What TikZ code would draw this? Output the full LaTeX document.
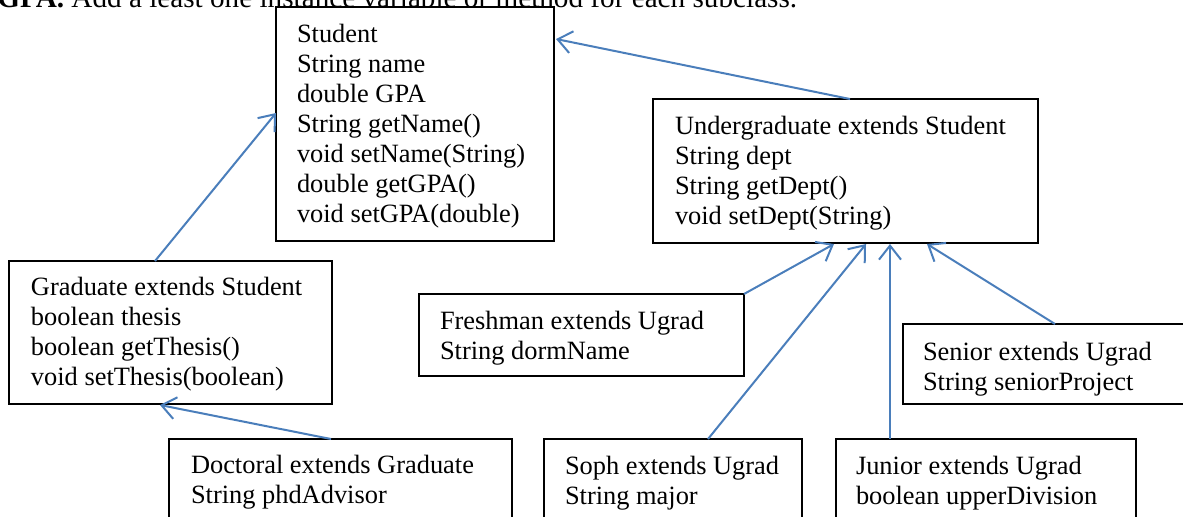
\documentclass[tikz,border=0pt]{standalone}
\usepackage{fontspec}
\setmainfont{Liberation Serif}
\usetikzlibrary{arrows.meta,calc}
\definecolor{arrowblue}{HTML}{4A7EBB}
\begin{document}
\begin{tikzpicture}[x=0.5pt,y=-0.5pt,
  box/.style={draw=black,line width=0.9pt,anchor=north west,inner sep=0pt,outer sep=0pt,fill=none},
  txt/.style={anchor=north west,inner sep=0pt,outer sep=0pt,align=left,font=\fontsize{13.2pt}{15pt}\selectfont},
  arr/.style={draw=arrowblue,line width=1pt,-{Straight Barb[length=7pt,width=11pt,line width=1pt]}}]
\useasboundingbox (0,0) rectangle (1183,516);
\fill[white] (0,0) rectangle (1183,516);
\clip (0,0) rectangle (1183,516);

\node[anchor=base west,inner sep=0pt,font=\fontsize{14.6pt}{16pt}\selectfont] (hdr) at (-3,7)
  {\textbf{GPA.} Add a least one instance variable or method for each subclass.};

% boxes
\node[box,minimum width=139pt,minimum height=117pt] (student) at (276,7) {};
\node[box,minimum width=192.5pt,minimum height=72pt] (under) at (653,99) {};
\node[box,minimum width=161.5pt,minimum height=71.5pt] (grad) at (9,261) {};
\node[box,minimum width=162.5pt,minimum height=41pt] (fresh) at (419,294) {};
\node[box,minimum width=146pt,minimum height=40pt] (senior) at (903,324) {};
\node[box,minimum width=171.5pt,minimum height=50.5pt] (doct) at (169,439) {};
\node[box,minimum width=129pt,minimum height=50.5pt] (soph) at (544,439) {};
\node[box,minimum width=150pt,minimum height=50.5pt] (junior) at (836,439) {};

% texts
\node[txt] (studentT) at ($(student.north west)+(21,0)$)
  {\rule{0pt}{17.5pt}Student\\String name\\double GPA\\String getName()\\void setName(String)\\double getGPA()\\void setGPA(double)};
\node[txt] (underT) at ($(under.north west)+(22,0)$)
  {\rule{0pt}{17.5pt}Undergraduate extends Student\\String dept\\String getDept()\\void setDept(String)};
\node[txt] (gradT) at ($(grad.north west)+(22,0)$)
  {\rule{0pt}{17pt}Graduate extends Student\\boolean thesis\\boolean getThesis()\\void setThesis(boolean)};
\node[txt] (freshT) at ($(fresh.north west)+(21,0)$)
  {\rule{0pt}{17.5pt}Freshman extends Ugrad\\String dormName};
\node[txt] (seniorT) at ($(senior.north west)+(20,0)$)
  {\rule{0pt}{18pt}Senior extends Ugrad\\String seniorProject};
\node[txt] (doctT) at ($(doct.north west)+(22,0)$)
  {\rule{0pt}{17pt}Doctoral extends Graduate\\String phdAdvisor};
\node[txt] (sophT) at ($(soph.north west)+(21,0)$)
  {\rule{0pt}{17.5pt}Soph extends Ugrad\\String major};
\node[txt] (juniorT) at ($(junior.north west)+(20,0)$)
  {\rule{0pt}{17.5pt}Junior extends Ugrad\\boolean upperDivision};

% connectors
\draw[arr] ($(grad.north west)+(146,0)$) -- ($(student.north west)+(0,106)$);
\draw[arr] ($(under.north west)+(197,0)$) -- ($(student.north east)+(2,32)$);
\draw[arr] ($(doct.north west)+(162,0)$) -- ($(grad.south west)+(151,1)$);
\draw[arr] (fresh.north east) -- ($(under.south west)+(181,1)$);
\draw[arr] ($(soph.north west)+(164,0)$) -- ($(under.south west)+(213,1)$);
\draw[arr] ($(junior.north west)+(54,0)$) -- ($(under.south west)+(237,1)$);
\draw[arr] ($(senior.north west)+(152,0)$) -- ($(under.south west)+(274,1)$);
\end{tikzpicture}
\end{document}
